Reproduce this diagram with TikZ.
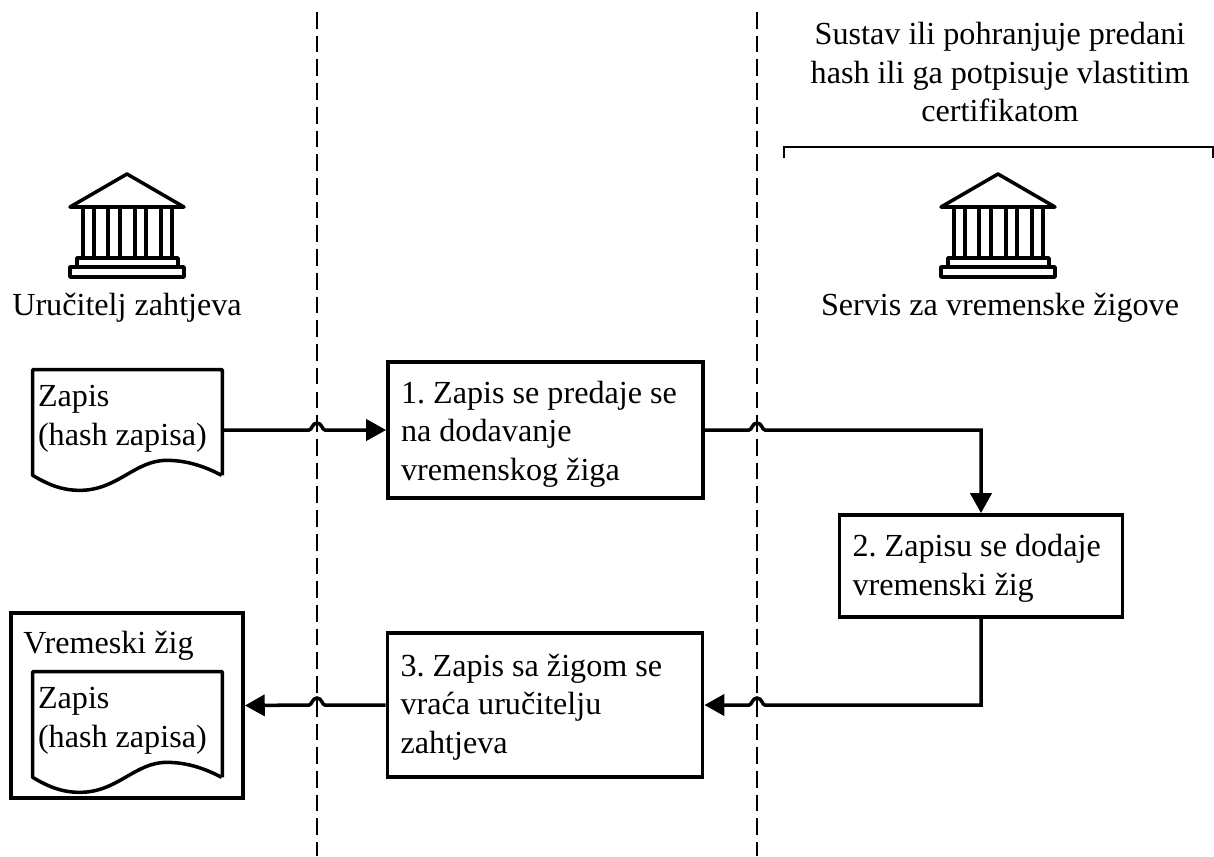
\documentclass[tikz,border=0pt]{standalone}
\usepackage{fontspec}
\setmainfont{Liberation Serif}
\usetikzlibrary{calc, arrows.meta}

\tikzset{
    textfont/.style={font=\fontsize{18.3}{22}\selectfont\frenchspacing},
    stepbox/.style={draw, line width=2.2pt, textfont, align=flush left, inner xsep=0.26cm, inner ysep=0pt, execute at end node=\par\vspace*{#1}},
    stepbox/.default=-0.16cm,
    zapisbox/.style={minimum width=3.78cm, minimum height=2.1cm, text width=3.58cm, inner xsep=0.1cm, inner ysep=0pt, textfont, align=flush left, execute at end node=\par\vspace*{0.14cm}},
    caption/.style={textfont, inner sep=0pt},
    connector/.style={line width=2pt, -{Triangle[length=11.3pt, width=12pt]}},
    separator/.style={line width=1pt, dash pattern=on 9.5pt off 4pt},
    zapisline/.style={line width=2pt, line join=round},
    hop/.style={insert path={.. controls +(#1*3,0) and +(#1*-5,0) .. ++(#1*8,-7) .. controls +(#1*5,0) and +(#1*-3,0) .. ++(#1*8,7)}},
    zgrada/.pic={
        \draw[line width=2pt, line join=round, line cap=round] (-57,33) -- (0,0) -- (57,33) -- cycle;
        \foreach \x in {-44,-33,-19,-7,8,19,34,45} {
            \draw[line width=2pt] (\x,33) -- (\x,84);
        };
        \draw[line width=2pt, line join=round] (-50,84) rectangle (51,93);
        \draw[line width=2pt, line join=round] (-57,93) rectangle (57,103);
    }
}

\newcommand{\zapisshape}[1]{
    \draw[zapisline] (#1.south east) -- (#1.north east) -- (#1.north west) -- (#1.south west)
        .. controls +(15,9) and +(-18,0) .. ++(47,15)
        .. controls +(38,0) and +(-32,0) .. ++(87,-30)
        .. controls +(20,0) and +(-17,-9) .. ++(55,15);
}

\begin{document}
\begin{tikzpicture}[x=0.02cm, y=-0.02cm]
    \useasboundingbox (0,0) rectangle (1214,856);

    \coordinate (sepA) at (317,12);
    \coordinate (sepB) at (757,12);
    \coordinate (sepAend) at (317,856);
    \coordinate (sepBend) at (757,856);
    \draw[separator] (sepA) -- (sepAend);
    \draw[separator] (sepB) -- (sepBend);

    \pic at (127,174) {zgrada};
    \pic at (998,174) {zgrada};
    \node[caption, anchor=base] (urucitelj) at (127,315) {Uručitelj zahtjeva};
    \node[caption, anchor=base] (servis) at (1000,315) {Servis za vremenske žigove};
    \node[caption, align=center] (sustav) at (1000,72) {Sustav ili pohranjuje predani\\hash ili ga potpisuje vlastitim\\certifikatom};
    \draw[line width=1.1pt] (784,158) -- (784,147) -- (1213,147) -- (1213,158);

    \node[zapisbox] (zapisA) at (127.5,422.5) {Zapis\\(hash zapisa)};
    \zapisshape{zapisA}

    \node[stepbox, minimum width=6.3cm, minimum height=2.72cm, text width=5.78cm] (boxA) at (545.5,430)
        {1. Zapis se predaje se\\na dodavanje\\vremenskog žiga};
    \node[stepbox=-0.1cm, minimum width=5.66cm, minimum height=2.04cm, text width=5.14cm] (boxB) at (981,566)
        {2. Zapisu se dodaje\\vremenski žig};
    \node[stepbox=-0.08cm, minimum width=6.3cm, minimum height=2.88cm, text width=5.78cm] (boxC) at (545,705)
        {3. Zapis sa žigom se\\vraća uručitelju\\zahtjeva};

    \node[draw, line width=2.2pt, minimum width=4.64cm, minimum height=3.7cm] (zig) at (127,705.5) {};
    \node[caption, anchor=base west] (zigtext) at (23,653) {Vremeski žig};
    \node[zapisbox] (zapisB) at (127.5,724.5) {Zapis\\(hash zapisa)};
    \zapisshape{zapisB}

    \draw[connector] (zapisA.east |- boxA.west) -- ($(sepA |- boxA.west)+(-8,0)$) [hop=1] -- (boxA.west);
    \draw[connector] (boxA.east) -- ($(sepB |- boxA.east)+(-8,0)$) [hop=1] -| (boxB.north);
    \draw[connector] (boxB.south) |- ($(sepB |- boxC.east)+(8,0)$) [hop=-1] -- (boxC.east);
    \draw[connector] (boxC.west) -- ($(sepA |- boxC.west)+(8,0)$) [hop=-1] -- (zig.east);
\end{tikzpicture}
\end{document}
